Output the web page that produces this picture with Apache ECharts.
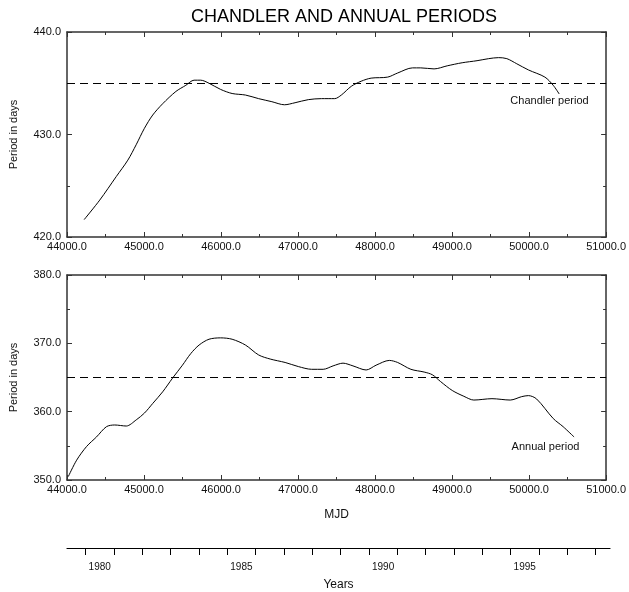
<!DOCTYPE html>
<html>
<head>
<meta charset="utf-8">
<script src="https://cdn.jsdelivr.net/npm/echarts@6/dist/echarts.min.js"></script>
<style>html,body{margin:0;padding:0;background:#fff}#c{width:629px;height:592px}</style>
</head>
<body>
<div id="c"></div>
<script>
// ---- data ----
const chandlerMJD = [44223,44425,44640,44790,44898,45005,45113,45242,45414,45543,45650,45736,45844,45994,46144,46317,46488,46660,46823,46961,47133,47304,47476,47562,47691,47820,47949,48164,48293,48486,48593,48766,48937,49131,49324,49475,49604,49711,49840,49991,50205,50313,50391];
const chandlerPeriod = [421.7,423.6,425.9,427.5,429.0,430.6,431.9,433.0,434.2,434.8,435.3,435.3,435.0,434.4,434.0,433.85,433.5,433.2,432.9,433.1,433.4,433.5,433.5,433.85,434.7,435.2,435.5,435.6,436.0,436.5,436.5,436.4,436.7,437.0,437.2,437.4,437.5,437.4,436.9,436.3,435.6,434.8,433.95];
const annualMJD = [44017,44125,44254,44383,44512,44619,44770,44899,45006,45113,45242,45370,45499,45607,45715,45844,45994,46144,46317,46488,46639,46832,47004,47175,47326,47455,47584,47713,47884,48013,48185,48293,48465,48637,48744,48851,49002,49153,49282,49518,49755,49904,49991,50098,50313,50442,50584];
const annualPeriod = [350.5,352.9,354.9,356.3,357.8,358.05,357.9,358.8,359.8,361.2,362.9,364.9,366.8,368.5,369.75,370.6,370.8,370.6,369.75,368.3,367.7,367.2,366.6,366.2,366.2,366.7,367.1,366.7,366.1,366.8,367.5,367.2,366.2,365.8,365.4,364.4,363.1,362.25,361.7,361.9,361.7,362.2,362.35,361.85,359.0,357.8,356.3];
const chandlerRef = 435.0;
const annualRef = 365.0;
const years = [1980,1981,1982,1983,1984,1985,1986,1987,1988,1989,1990,1991,1992,1993,1994,1995,1996,1997,1998];
const labeledYears = [1980,1985,1990,1995];
const chandlerLabel = {text: 'Chandler period', mjd: 50265, value: 433.27};
const annualLabel = {text: 'Annual period', mjd: 50213, value: 354.8};

// ---- helpers ----
const MJD_EPOCH_1970 = 40587;
function yearStartMJD(y){ return Date.UTC(y,0,1)/86400000 + MJD_EPOCH_1970; }
function yearMidMJD(y){ return (yearStartMJD(y) + yearStartMJD(y+1))/2; }
function mjdToYear(v){ return new Date((v - MJD_EPOCH_1970)*86400000).getUTCFullYear(); }

const FONT = 'Liberation Sans, Arial, sans-serif';
const AX = '#333';

function xAx(grid, pos, labels, extra){
  return Object.assign({
    type:'value', gridIndex:grid, position:pos, min:44000, max:51000, interval:1000,
    axisLine:{show:true, onZero:false, lineStyle:{color:AX, width:1.5}},
    axisTick:{show:true, inside:true, length:5, lineStyle:{color:AX}},
    minorTick:{show:true, splitNumber:2, length:3, lineStyle:{color:AX}},
    splitLine:{show:false},
    axisLabel:{show:labels, color:'#111', fontSize:11, fontFamily:FONT, margin:4, formatter:v=>v.toFixed(1), showMaxLabel:true, showMinLabel:true}
  }, extra||{});
}
function yAx(grid, pos, min, max, labels, extra){
  return Object.assign({
    type:'value', gridIndex:grid, position:pos, min:min, max:max, interval:10,
    axisLine:{show:true, onZero:false, lineStyle:{color:AX, width:1.5}},
    axisTick:{show:true, inside:true, length:5, lineStyle:{color:AX}},
    minorTick:{show:true, splitNumber:2, length:3, lineStyle:{color:AX}},
    splitLine:{show:false},
    axisLabel:{show:labels, color:'#111', fontSize:11, fontFamily:FONT, margin:6, formatter:v=>v.toFixed(1)}
  }, extra||{});
}
const yName = {name:'Period in days', nameLocation:'middle', nameGap:48, nameRotate:90,
  nameTextStyle:{fontSize:11, fontFamily:FONT, color:'#111'}};

function zip(a,b){ return a.map((v,i)=>[v,b[i]]); }
function refLine(v){
  return {silent:true, symbol:['none','none'], label:{show:false},
    lineStyle:{type:[8,5], color:'#000', width:1}, data:[{yAxis:v}]};
}
function annot(l){
  return {silent:true, symbol:'circle', symbolSize:0,
    label:{show:true, position:'inside', formatter:l.text, color:'#111', fontSize:11, fontFamily:FONT},
    data:[{coord:[l.mjd, l.value]}]};
}

const option = {
  animation:false,
  backgroundColor:'#fff',
  title:{text:'CHANDLER AND ANNUAL PERIODS', left:339, top:3, textAlign:'center',
    textStyle:{fontSize:18, fontWeight:'normal', fontFamily:FONT, color:'#000'}},
  grid:[
    {left:67, right:19, top:32, height:205},
    {left:67, right:19, top:275, height:205},
    {left:67, right:19, top:547, height:1}
  ],
  xAxis:[
    xAx(0,'bottom',true),
    xAx(0,'top',false),
    xAx(1,'bottom',true,{name:'MJD', nameLocation:'middle', nameGap:29, nameTextStyle:{fontSize:12, fontFamily:FONT, color:'#111'}}),
    xAx(1,'top',false),
    {type:'value', gridIndex:2, position:'bottom', min:44000, max:51000,
      axisLine:{show:true, onZero:false, lineStyle:{color:'#000', width:1.2}},
      axisTick:{show:true, inside:false, length:7, customValues:years.map(yearStartMJD), lineStyle:{color:'#000'}},
      splitLine:{show:false},
      axisLabel:{show:true, customValues:labeledYears.map(yearMidMJD), formatter:v=>String(mjdToYear(v)),
        fontSize:10, fontFamily:FONT, color:'#111', margin:14},
      name:'Years', nameLocation:'middle', nameGap:31, nameTextStyle:{fontSize:12, fontFamily:FONT, color:'#111'}}
  ],
  yAxis:[
    yAx(0,'left',420,440,true,yName),
    yAx(0,'right',420,440,false),
    yAx(1,'left',350,380,true,yName),
    yAx(1,'right',350,380,false),
    {type:'value', gridIndex:2, show:false, min:0, max:1}
  ],
  series:[
    {type:'line', xAxisIndex:0, yAxisIndex:0, data:zip(chandlerMJD, chandlerPeriod), smooth:0.3,
      showSymbol:false, lineStyle:{color:'#000', width:1}, markLine:refLine(chandlerRef), markPoint:annot(chandlerLabel)},
    {type:'line', xAxisIndex:2, yAxisIndex:2, data:zip(annualMJD, annualPeriod), smooth:0.3,
      showSymbol:false, lineStyle:{color:'#000', width:1}, markLine:refLine(annualRef), markPoint:annot(annualLabel)}
  ]
};
const chart = echarts.init(document.getElementById('c'), null, {renderer:'canvas'});
chart.setOption(option);
</script>
</body>
</html>
